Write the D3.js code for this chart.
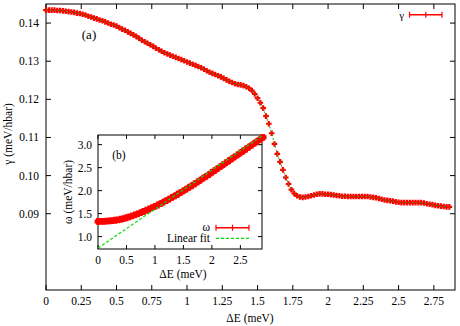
<!DOCTYPE html>
<html>
<head>
<meta charset="utf-8">
<script src="https://cdn.jsdelivr.net/npm/d3@7"></script>
<style>
  body { margin: 0; background: #fff; }
  svg text { font-family: "Liberation Serif", "DejaVu Serif", "Times New Roman", Times, serif; }
</style>
</head>
<body>
<svg width="460" height="326"></svg>
<script>
// main panel (a): gamma vs dE, dE on a 0.02 grid from 0 to 2.86
const dEStep = 0.02;
const gamma = [
  0.1434, 0.1434, 0.1434, 0.1434, 0.1433, 0.1433, 0.1432, 0.1431, 0.1430, 0.1429,
  0.1428, 0.1426, 0.1425, 0.1423, 0.1421, 0.1418, 0.1416, 0.1413, 0.1411, 0.1408,
  0.1406, 0.1403, 0.1400, 0.1397, 0.1395, 0.1392, 0.1388, 0.1384, 0.1381, 0.1377,
  0.1373, 0.1369, 0.1365, 0.1360, 0.1355, 0.1351, 0.1347, 0.1343, 0.1339, 0.1334,
  0.1330, 0.1326, 0.1322, 0.1319, 0.1316, 0.1313, 0.1310, 0.1307, 0.1304, 0.1301,
  0.1298, 0.1295, 0.1292, 0.1289, 0.1286, 0.1283, 0.1279, 0.1275, 0.1271, 0.1268,
  0.1265, 0.1262, 0.1259, 0.1255, 0.1251, 0.1247, 0.1244, 0.1241, 0.1239, 0.1238,
  0.1236, 0.1233, 0.1229, 0.1223, 0.1214, 0.1203, 0.1191, 0.1177, 0.1156, 0.1136,
  0.1111, 0.1083, 0.1057, 0.1036, 0.1015, 0.0995, 0.0978, 0.0963, 0.0953, 0.0947,
  0.0944, 0.0943, 0.0944, 0.0945, 0.0947, 0.0949, 0.0951, 0.0952, 0.0952, 0.0951,
  0.0951, 0.0950, 0.0949, 0.0948, 0.0947, 0.0946, 0.0946, 0.0945, 0.0945, 0.0945,
  0.0945, 0.0945, 0.0945, 0.0945, 0.0945, 0.0944, 0.0943, 0.0942, 0.0940, 0.0938,
  0.0936, 0.0935, 0.0934, 0.0933, 0.0931, 0.0930, 0.0929, 0.0929, 0.0929, 0.0929,
  0.0929, 0.0929, 0.0929, 0.0929, 0.0928, 0.0926, 0.0925, 0.0924, 0.0922, 0.0921,
  0.0920, 0.0919, 0.0918, 0.0918
];
const xTicksA = [0, 0.25, 0.5, 0.75, 1, 1.25, 1.5, 1.75, 2, 2.25, 2.5, 2.75];
const yTicksA = [0.09, 0.10, 0.11, 0.12, 0.13, 0.14];

// inset (b): omega vs dE on a 0.05 grid, plus linear fit end points
const omegaStep = 0.05;
const omega = [
  1.33, 1.33, 1.332, 1.335, 1.34, 1.347, 1.355, 1.365, 1.377, 1.392,
  1.41, 1.43, 1.45, 1.472, 1.495, 1.52, 1.546, 1.573, 1.60, 1.628,
  1.657, 1.687, 1.718, 1.75, 1.783, 1.817, 1.851, 1.886, 1.921, 1.957,
  1.994, 2.032, 2.07, 2.11, 2.15, 2.19, 2.23, 2.27, 2.31, 2.35,
  2.395, 2.437, 2.48, 2.522, 2.565, 2.607, 2.65, 2.692, 2.735, 2.777,
  2.82, 2.862, 2.905, 2.947, 2.99, 3.032, 3.075, 3.117, 3.16
];
const fitX = [0, 2.88];
const fitY = [0.75, 3.19];
const xTicksB = [0, 0.5, 1, 1.5, 2, 2.5];
const yTicksB = [1.0, 1.5, 2.0, 2.5, 3.0];

const svg = d3.select("svg");
const red = "#ff0000";

const ptsA = gamma.map((v, i) => ({x: +(i * dEStep).toFixed(2), y: v}));
const ptsB = omega.map((v, i) => ({x: +(i * omegaStep).toFixed(2), y: v}));

// ---- main panel ----
const A = {left: 46, right: 455, top: 4, bottom: 290};
const xA = d3.scaleLinear().domain([0, 2.9]).range([A.left, A.right]);
const yA = d3.scaleLinear().domain([0.07, 0.145]).range([A.bottom, A.top]);

function frame(g, b, xs, ys, xt, yt, tk) {
  g.append("rect")
    .attr("x", b.left).attr("y", b.top)
    .attr("width", b.right - b.left).attr("height", b.bottom - b.top)
    .attr("fill", "#fff").attr("stroke", "none");
  const t = g.append("g").attr("stroke", "#000").attr("stroke-width", 1);
  xt.forEach(v => {
    t.append("line").attr("x1", xs(v)).attr("x2", xs(v)).attr("y1", b.bottom).attr("y2", b.bottom - tk);
    t.append("line").attr("x1", xs(v)).attr("x2", xs(v)).attr("y1", b.top).attr("y2", b.top + tk);
  });
  yt.forEach(v => {
    t.append("line").attr("y1", ys(v)).attr("y2", ys(v)).attr("x1", b.left).attr("x2", b.left + tk);
    t.append("line").attr("y1", ys(v)).attr("y2", ys(v)).attr("x1", b.right).attr("x2", b.right - tk);
  });
  g.append("rect")
    .attr("x", b.left).attr("y", b.top)
    .attr("width", b.right - b.left).attr("height", b.bottom - b.top)
    .attr("fill", "none").attr("stroke", "#000").attr("stroke-width", 1);
}

function crosses(g, pts, xs, ys, s, w) {
  g.selectAll(null).data(pts).join("path")
    .attr("transform", d => `translate(${xs(d.x)},${ys(d.y)})`)
    .attr("d", `M${-s},0H${s}M0,${-s}V${s}`)
    .attr("stroke", red).attr("stroke-width", w).attr("fill", "none");
}

const gA = svg.append("g");
frame(gA, A, xA, yA, xTicksA, yTicksA, 5);

gA.selectAll(".xl").data(xTicksA).join("text")
  .attr("x", d => xA(d)).attr("y", 305)
  .attr("text-anchor", "middle").style("font-size", "11.5px")
  .text(d => d3.format("~g")(d));
gA.selectAll(".yl").data(yTicksA).join("text")
  .attr("x", 39).attr("y", d => yA(d) + 4)
  .attr("text-anchor", "end").style("font-size", "11.5px")
  .text(d => d3.format(".2f")(d));

svg.append("text").attr("x", 250).attr("y", 322)
  .attr("text-anchor", "middle").style("font-size", "11.5px").text("ΔE (meV)");
svg.append("text")
  .attr("transform", "translate(12,134) rotate(-90)")
  .attr("text-anchor", "middle").style("font-size", "11.5px").text("γ (meV/hbar)");
svg.append("text").attr("x", 89).attr("y", 39)
  .attr("text-anchor", "middle").style("font-size", "13px").text("(a)");

crosses(gA, ptsA, xA, yA, 2.8, 2.2);
gA.append("path").datum(ptsA)
  .attr("d", d3.line().x(d => xA(d.x)).y(d => yA(d.y)))
  .attr("fill", "none").attr("stroke", "#3c9a00").attr("stroke-width", 1)
  .attr("stroke-dasharray", "2,2");

// legend (a)
function errLegend(g, x1, x2, y) {
  g.append("line").attr("x1", x1).attr("x2", x2).attr("y1", y).attr("y2", y)
    .attr("stroke", red).attr("stroke-width", 1.5);
  [x1, (x1 + x2) / 2, x2].forEach(x =>
    g.append("line").attr("x1", x).attr("x2", x).attr("y1", y - 3).attr("y2", y + 3)
      .attr("stroke", red).attr("stroke-width", 1.2));
}
svg.append("text").attr("x", 404).attr("y", 19)
  .attr("text-anchor", "end").style("font-size", "11px").text("γ");
errLegend(svg, 409.5, 442, 14.7);

// ---- inset panel ----
const B = {left: 98, right: 262, top: 135, bottom: 249};
const xB = d3.scaleLinear().domain([0, 2.88]).range([B.left, B.right]);
const yB = d3.scaleLinear().domain([0.73, 3.21]).range([B.bottom, B.top]);

const gB = svg.append("g");
frame(gB, B, xB, yB, xTicksB, yTicksB, 4);

gB.selectAll(".xl").data(xTicksB).join("text")
  .attr("x", d => xB(d)).attr("y", 264)
  .attr("text-anchor", "middle").style("font-size", "11.5px")
  .text(d => d3.format("~g")(d));
gB.selectAll(".yl").data(yTicksB).join("text")
  .attr("x", 92).attr("y", d => yB(d) + 4)
  .attr("text-anchor", "end").style("font-size", "11.5px")
  .text(d => d3.format(".1f")(d));

svg.append("text").attr("x", 183).attr("y", 278)
  .attr("text-anchor", "middle").style("font-size", "11.5px").text("ΔE (meV)");
svg.append("text")
  .attr("transform", "translate(72,192) rotate(-90)")
  .attr("text-anchor", "middle").style("font-size", "11.5px").text("ω (meV/hbar)");
svg.append("text").attr("x", 119).attr("y", 159)
  .attr("text-anchor", "middle").style("font-size", "11.5px").text("(b)");

crosses(gB, ptsB, xB, yB, 3.4, 4);
gB.append("path").datum(fitX.map((x, i) => ({x, y: fitY[i]})))
  .attr("d", d3.line().x(d => xB(d.x)).y(d => yB(d.y)))
  .attr("fill", "none").attr("stroke", "#00e000").attr("stroke-width", 1.2)
  .attr("stroke-dasharray", "3,2");

svg.append("text").attr("x", 210).attr("y", 231)
  .attr("text-anchor", "end").style("font-size", "11.5px").text("ω");
errLegend(svg, 216, 249, 227.7);
svg.append("text").attr("x", 210).attr("y", 242)
  .attr("text-anchor", "end").style("font-size", "11.5px").text("Linear fit");
svg.append("line").attr("x1", 216).attr("x2", 249).attr("y1", 238.3).attr("y2", 238.3)
  .attr("stroke", "#00e000").attr("stroke-width", 1.2).attr("stroke-dasharray", "3,2");
</script>
</body>
</html>
